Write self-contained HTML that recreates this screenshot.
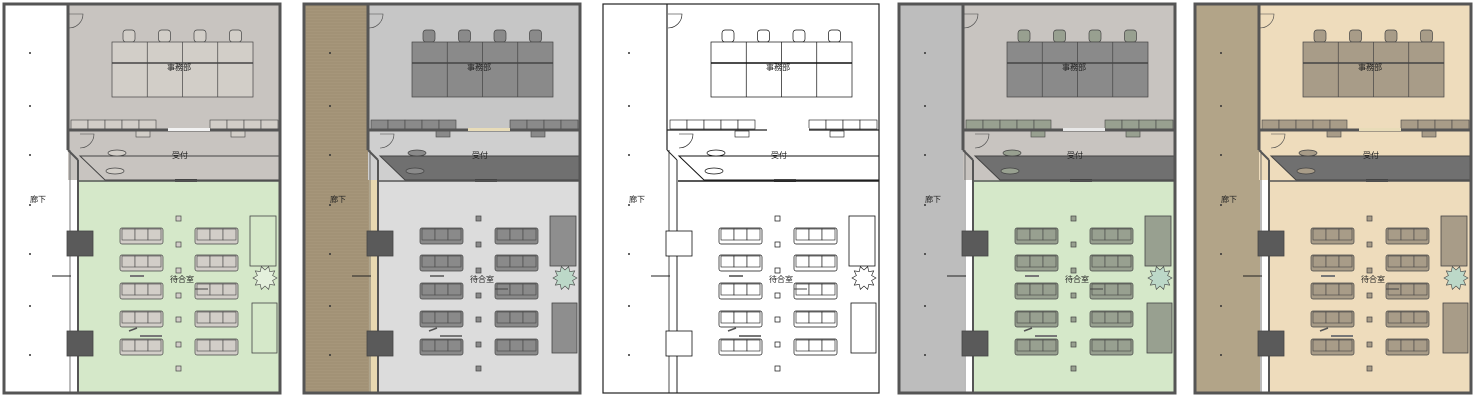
<!DOCTYPE html><html><head><meta charset="utf-8"><style>
html,body{margin:0;padding:0;background:#fff;width:1477px;height:400px;overflow:hidden}
svg text{font-family:"Liberation Sans","Noto Sans CJK JP",sans-serif;font-size:8px;fill:#222}
</style></head><body>
<svg id="s" width="1477" height="400" xmlns="http://www.w3.org/2000/svg"></svg>
<script>
const themes=[
 {x:4,cor:'#ffffff',off:'#c8c4c0',rec:'#c8c4c0',wait:'#d5e8c9',fur:'#d2cec8',desk:'#d2cec8',cnt:'#c8c4c0',blk:'#5a5a5a',wall:'#555',line:'#444',gap:'#f2f2f2',tbl:'#d5e8c9',plant:'#e4f0dc'},
 {x:304,cor:'#a6967a',off:'#c6c6c6',rec:'#cfcfcf',wait:'#dcdcdc',fur:'#8a8a8a',desk:'#8a8a8a',cnt:'#707070',blk:'#5a5a5a',wall:'#555',line:'#444',gap:'#e8dcb8',tbl:'#8e8e8e',plant:'#bcd8c8',stripe:1},
 {x:603,cor:'#ffffff',off:'#ffffff',rec:'#ffffff',wait:'#ffffff',fur:'#ffffff',desk:'#ffffff',cnt:'#ffffff',blk:'#ffffff',wall:'#222',line:'#111',gap:'#fff',tbl:'#fff',plant:'#fff',thin:1},
 {x:899,cor:'#bdbdbd',off:'#c8c4c0',rec:'#c8c4c0',wait:'#d5e8c9',fur:'#98a090',desk:'#8a8a8a',cnt:'#707070',blk:'#5a5a5a',wall:'#555',line:'#444',gap:'#e8e8e8',tbl:'#98a090',plant:'#bcd8c8'},
 {x:1195,cor:'#b2a488',off:'#eedcbc',rec:'#eedcbc',wait:'#eedcbc',fur:'#a89c88',desk:'#a89c88',cnt:'#707070',blk:'#5a5a5a',wall:'#555',line:'#444',gap:'#e8dcb8',tbl:'#a89c88',plant:'#bcd8c8'}
];
let h='';
function R(x,y,w,h2,f,s,sw){return `<rect x="${x}" y="${y}" width="${w}" height="${h2}" fill="${f}" stroke="${s||'none'}" stroke-width="${sw||1}"/>`}
for(const t of themes){
 const X=t.x, L=t.line, W=t.wall, ws=t.thin?1.2:3;
 let g=`<g transform="translate(${X-4},0)">`;
 // corridor
 g+=R(4,4,65,389,t.cor);
 if(t.stripe){for(let y=6;y<393;y+=3)g+=`<line x1="6" y1="${y}" x2="68" y2="${y}" stroke="#978868" stroke-width="0.6"/>`; g+=R(69,180,9,212,'#e8d8b0');}
 // office
 g+=R(68,4,212,127,t.off);
 g+=R(68,131,212,49,t.rec);
 g+=R(79,180,201,212,t.wait);
 // desks
 for(let i=0;i<4;i++){ const cx=129+i*35.5;
  g+=`<rect x="${cx-6}" y="30" width="12" height="12" rx="3" fill="${t.fur}" stroke="${L}" stroke-width="0.7"/>`;
  g+=`<rect x="${cx-6}" y="83" width="12" height="12" rx="3" fill="${t.fur}" stroke="${L}" stroke-width="0.7"/>`;}
 g+=R(112,42,141,55,t.desk,L,0.7);
 for(let i=1;i<4;i++)g+=`<line x1="${112+i*35.25}" y1="42" x2="${112+i*35.25}" y2="97" stroke="${L}" stroke-width="0.7"/>`;
 g+=`<line x1="112" y1="63" x2="253" y2="63" stroke="${L}" stroke-width="1.5"/>`;
 g+=`<text x="167" y="70">事務部</text>`;
 // cabinets
 for(let i=0;i<5;i++)g+=R(71+i*17,120,17,9,t.fur,L,0.6);
 for(let i=0;i<4;i++)g+=R(210+i*17,120,17,9,t.fur,L,0.6);
 g+=R(136,131,14,6,t.fur,L,0.6); g+=R(231,131,14,6,t.fur,L,0.6);
 // reception counter
 g+=`<polygon points="80,156 280,156 280,180 105,180" fill="${t.cnt}" stroke="${L}" stroke-width="1"/>`;
 g+=`<ellipse cx="117" cy="153" rx="9" ry="3" fill="${t.fur}" stroke="${L}" stroke-width="0.7"/>`;
 g+=`<ellipse cx="115" cy="171" rx="9" ry="3" fill="${t.fur}" stroke="${L}" stroke-width="0.7"/>`;
 g+=`<text x="172" y="158">受付</text>`;
 g+=R(175,179,22,3,'#444');
 // walls
 g+=R(4,4,276,389,'none',W,ws);
 g+=`<line x1="68" y1="4" x2="68" y2="150" stroke="${W}" stroke-width="${ws}"/>`;
 g+=`<line x1="68" y1="150" x2="78" y2="160" stroke="${W}" stroke-width="${t.thin?1:2}"/>`;
 g+=`<line x1="78" y1="160" x2="78" y2="393" stroke="${W}" stroke-width="${t.thin?1:2}"/>`;
 g+=`<line x1="70" y1="150" x2="70" y2="393" stroke="${W}" stroke-width="0.8"/>`;
 g+=`<line x1="68" y1="130" x2="280" y2="130" stroke="${W}" stroke-width="${ws}"/>`;
 g+=R(168,128,42,3,t.gap);
 g+=`<line x1="79" y1="181" x2="280" y2="181" stroke="${W}" stroke-width="1.5"/>`;
 g+=`<path d="M69,28 A14,14 0 0 0 83,14 L69,14" fill="none" stroke="${L}" stroke-width="0.6"/>`;
 g+=`<path d="M80,148 A14,14 0 0 0 94,134 L80,134" fill="none" stroke="${L}" stroke-width="0.6"/>`;
 // corridor dots
 for(const y of [53,106,155,205,254,306,355])g+=`<circle cx="30" cy="${y}" r="1" fill="#333"/>`;
 g+=`<text x="30" y="202">廊下</text>`;
 g+=`<line x1="52" y1="276" x2="71" y2="276" stroke="#222" stroke-width="1"/>`;
 // blocks
 g+=R(67,231,26,25,t.blk,L,0.8); g+=R(67,331,26,25,t.blk,L,0.8);
 // sofas
 for(const y of [228,255,283,311,339]){ for(const x0 of [120,195]){
  g+=`<rect x="${x0}" y="${y}" width="43" height="16" rx="2" fill="${t.fur}" stroke="${L}" stroke-width="0.7"/>`;
  for(let k=0;k<3;k++)g+=`<rect x="${x0+2+k*13}" y="${y+1}" width="13" height="11" fill="${t.fur}" stroke="${L}" stroke-width="0.6"/>`;
 }}
 for(const y of [218,244,270,295,319,344,368])g+=R(176,y-2,5,5,t.fur,L,0.7);
 g+=`<text x="170" y="282">待合室</text>`;
 g+=R(130,275,14,2,'#777'); g+=R(140,335,22,2,'#777');
 g+=`<line x1="129" y1="331" x2="137" y2="328" stroke="#555" stroke-width="1.5"/>`;
 g+=`<line x1="195" y1="289" x2="208" y2="289" stroke="#444" stroke-width="1"/>`;
 // tables and plant
 g+=R(250,216,26,50,t.tbl,L,0.8); g+=R(252,303,25,50,t.tbl,L,0.8);
 let p='';for(let i=0;i<20;i++){const a=i*Math.PI/10,r=i%2?8:12;p+=(265+r*Math.cos(a)).toFixed(1)+','+(278+r*Math.sin(a)).toFixed(1)+' ';}
 g+=`<polygon points="${p}" fill="${t.plant}" stroke="${L}" stroke-width="0.6"/>`;
 g+='</g>'; h+=g;
}
document.getElementById('s').innerHTML=h;
</script>
</body></html>
